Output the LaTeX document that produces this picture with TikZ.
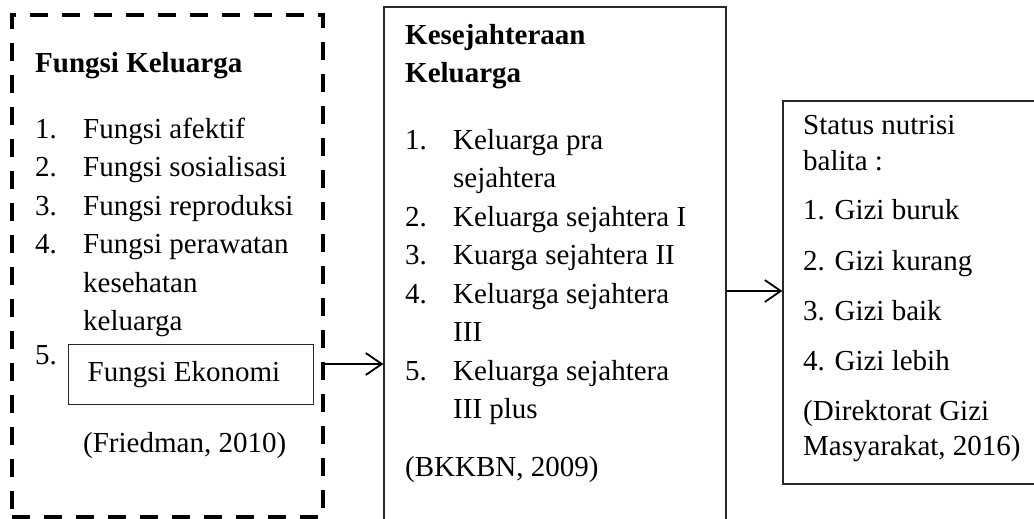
\documentclass[tikz,border=0pt]{standalone}
\usepackage{fontspec}
\setmainfont{Liberation Serif}
\usetikzlibrary{arrows.meta}
\tikzset{
  every node/.style={font=\fontsize{29}{35}\selectfont, inner sep=0pt},
  txt/.style={anchor=base west},
  hd/.style={anchor=base west, font=\fontsize{29}{35}\selectfont\bfseries},
  solidbox/.style={draw={rgb,255:red,40;green,40;blue,40}, line width=1.3pt},
  dashbox/.style={draw=black, line width=4pt, dash pattern=on 18pt off 14pt},
  arr/.style={draw=black, line width=1.6pt, -{Straight Barb[length=16pt,width=22pt,line width=1.8pt]}},
}
\begin{document}
\begin{tikzpicture}[x=1pt,y=-1pt]
\useasboundingbox (0,0) rectangle (1034,519);
\fill[white] (0,0) rectangle (1034,519);
\clip (0,0) rectangle (1034,519);

% boxes
\node[dashbox, minimum width=311pt, minimum height=502pt] (left) at (167.5,266) {};
\node[solidbox, minimum width=342pt, minimum height=560pt] (mid) at (555,287) {};
\node[solidbox, minimum width=252pt, minimum height=383pt] (right) at (909,292.5) {};

% left box text
\node[hd] (lh) at (35,73) {Fungsi Keluarga};
\node[txt] (ln1) at (35,138) {1.};
\node[txt] (lt1) at (83,138) {Fungsi afektif};
\node[txt] (ln2) at (35,176.5) {2.};
\node[txt] (lt2) at (83,176.5) {Fungsi sosialisasi};
\node[txt] (ln3) at (35,215) {3.};
\node[txt] (lt3) at (83,215) {Fungsi reproduksi};
\node[txt] (ln4) at (35,253.5) {4.};
\node[txt] (lt4) at (83,253.5) {Fungsi perawatan};
\node[txt] (lt4b) at (83,292) {kesehatan};
\node[txt] (lt4c) at (83,330.5) {keluarga};
\node[txt] (ln5) at (35,364) {5.};
\node[solidbox, anchor=north west, minimum width=245pt, minimum height=60pt,
      inner xsep=19pt] (ekon) at (68,344) {\makebox[207pt][l]{Fungsi Ekonomi}};
\node[txt] (lsrc) at (83,452) {(Friedman, 2010)};

% middle box text
\node[hd] (mh1) at (405,45) {Kesejahteraan};
\node[hd] (mh2) at (405,83) {Keluarga};
\node[txt] (mn1) at (405,149) {1.};
\node[txt] (mt1) at (453,149) {Keluarga pra};
\node[txt] (mt1b) at (453,187.5) {sejahtera};
\node[txt] (mn2) at (405,226) {2.};
\node[txt] (mt2) at (453,226) {Keluarga sejahtera I};
\node[txt] (mn3) at (405,264.5) {3.};
\node[txt] (mt3) at (453,264.5) {Kuarga sejahtera II};
\node[txt] (mn4) at (405,303) {4.};
\node[txt] (mt4) at (453,303) {Keluarga sejahtera};
\node[txt] (mt4b) at (453,341.5) {III};
\node[txt] (mn5) at (405,380) {5.};
\node[txt] (mt5) at (453,380) {Keluarga sejahtera};
\node[txt] (mt5b) at (453,418.5) {III plus};
\node[txt] (msrc) at (405,476) {(BKKBN, 2009)};

% right box text
\node[txt] (r1) at (803,135) {Status nutrisi};
\node[txt] (r2) at (803,170) {balita :};
\node[txt] (r3) at (803,219) {1. Gizi buruk};
\node[txt] (r4) at (803,270) {2. Gizi kurang};
\node[txt] (r5) at (803,320) {3. Gizi baik};
\node[txt] (r6) at (803,370) {4. Gizi lebih};
\node[txt] (r7) at (803,420) {(Direktorat Gizi};
\node[txt] (r8) at (803,455) {Masyarakat, 2016)};

% connectors
\coordinate (a1) at (323,364);
\draw[arr] (a1) -- (a1 -| mid.west);
\coordinate (a2) at (726,291);
\draw[arr] (a2) -- (a2 -| right.west);
\end{tikzpicture}
\end{document}
